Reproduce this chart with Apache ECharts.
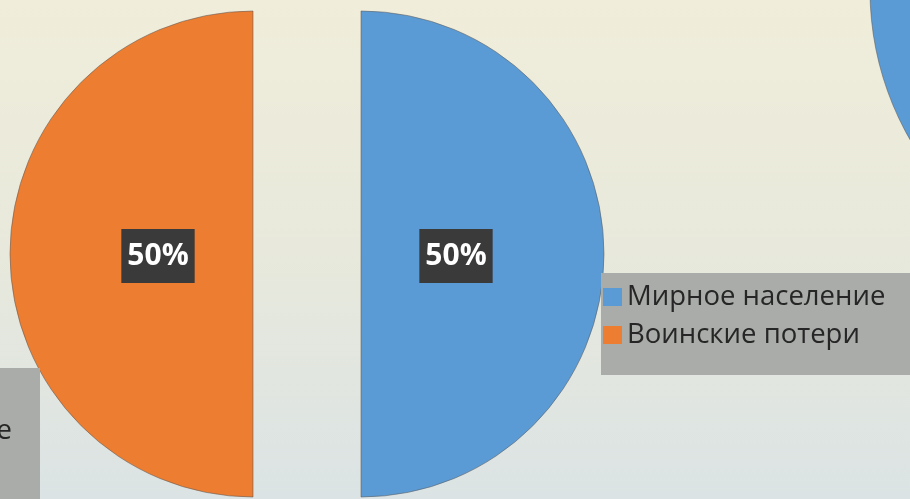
<!DOCTYPE html>
<html>
<head>
<meta charset="utf-8">
<script src="https://cdn.jsdelivr.net/npm/echarts@6/dist/echarts.min.js"></script>
<style>
  html, body { margin: 0; padding: 0; }
  #chart { width: 910px; height: 499px; }
</style>
</head>
<body>
<div id="chart"></div>
<script>
// losses split, both slices pulled apart
const categories = ['Мирное население', 'Воинские потери']
const shares = [50, 50]
const colors = ['#5B9BD5', '#ED7D31']

const sliceData = categories.map((name, i) => ({
  name: name,
  value: shares[i],
  selected: true,
  itemStyle: { color: colors[i] }
}))

const legendText = { fontFamily: 'Open Sans', fontSize: 27.5, color: '#262626' }

const chart = echarts.init(document.getElementById('chart'))
chart.setOption({
  animation: false,
  backgroundColor: {
    type: 'linear', x: 0, y: 0, x2: 0, y2: 1,
    colorStops: [
      { offset: 0, color: '#F0EDDA' },
      { offset: 0.5, color: '#E8E9DC' },
      { offset: 1, color: '#DBE3E4' }
    ]
  },
  legend: [
    {
      orient: 'vertical',
      align: 'left',
      left: 601,
      top: 273,
      selectedMode: false,
      data: categories,
      icon: 'rect',
      itemWidth: 19,
      itemHeight: 18,
      itemGap: 10,
      itemStyle: { borderWidth: 0 },
      padding: [10, 60, 26, 2],
      backgroundColor: '#A9ACA8',
      textStyle: legendText
    },
    {
      // legend of the neighbouring chart, mostly off-screen
      orient: 'vertical',
      align: 'left',
      right: 870,
      top: 368,
      height: 240,
      selectedMode: false,
      data: categories,
      icon: 'rect',
      itemWidth: 19,
      itemHeight: 18,
      itemGap: 10,
      itemStyle: { borderWidth: 0 },
      padding: [49, 28, 30, 2],
      backgroundColor: '#A9ACA8',
      textStyle: legendText
    }
  ],
  series: [
    {
      name: 'Потери',
      type: 'pie',
      center: [307, 254],
      radius: 243,
      startAngle: 90,
      clockwise: true,
      selectedMode: 'multiple',
      selectedOffset: 54,
      silent: true,
      label: { show: false },
      labelLine: { show: false },
      itemStyle: { borderColor: 'rgba(90,90,90,0.55)', borderWidth: 1 },
      emphasis: { disabled: true },
      data: sliceData
    },
    {
      name: 'Подписи',
      type: 'pie',
      center: [307, 256],
      radius: 184,
      startAngle: 90,
      clockwise: true,
      selectedMode: 'multiple',
      selectedOffset: 54,
      silent: true,
      itemStyle: { color: 'rgba(0,0,0,0)', borderWidth: 0 },
      label: {
        show: true,
        position: 'inside',
        formatter: '{d}%',
        fontFamily: 'Open Sans',
        fontWeight: 'bold',
        fontSize: 30,
        lineHeight: 30,
        color: '#FFFFFF',
        backgroundColor: '#3A3A3A',
        padding: [12, 6]
      },
      emphasis: { disabled: true },
      data: categories.map((name, i) => ({ name: name, value: shares[i], selected: true }))
    },
    {
      name: 'Соседняя',
      type: 'pie',
      center: [1170, -10],
      radius: 300,
      startAngle: 270,
      clockwise: true,
      silent: true,
      label: { show: false },
      labelLine: { show: false },
      itemStyle: { borderColor: 'rgba(90,90,90,0.55)', borderWidth: 1 },
      emphasis: { disabled: true },
      data: categories.map((name, i) => ({ name: name, value: shares[i], itemStyle: { color: colors[i] } }))
    }
  ]
})
</script>
</body>
</html>
